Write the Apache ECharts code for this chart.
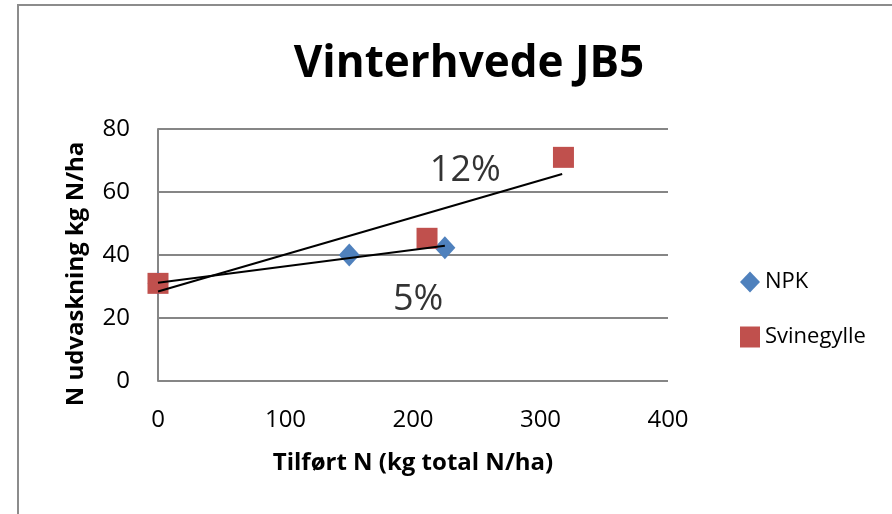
<!DOCTYPE html>
<html>
<head>
<meta charset="utf-8">
<script src="https://cdn.jsdelivr.net/npm/echarts@6/dist/echarts.min.js"></script>
<style>
  html, body { margin: 0; padding: 0; background: #fff; }
  #chart { width: 892px; height: 514px; }
</style>
</head>
<body>
<div id="chart"></div>
<script>
// data
var npkX = [0, 150, 225];
var npkY = [31, 40, 42.3];
var svinX = [0, 211, 318];
var svinY = [31, 45.3, 71];
// trend lines (end points)
var npkTrendX = [0, 225];
var npkTrendY = [31.2, 42.9];
var svinTrendX = [0, 317];
var svinTrendY = [28.4, 65.7];
// slope labels
var slopeLabels = ['12%', '5%'];
var slopeLabelX = [241, 204];
var slopeLabelY = [66.8, 25.7];

function pairs(x, y) {
  var res = [];
  for (var i = 0; i < x.length; i++) {
    res.push([x[i], y[i]]);
  }
  return res;
}

var font = 'Open Sans, Noto Sans, sans-serif';
var chart = echarts.init(document.getElementById('chart'));

var labelData = [];
for (var i = 0; i < slopeLabels.length; i++) {
  labelData.push({ value: [slopeLabelX[i], slopeLabelY[i]], name: slopeLabels[i] });
}

var option = {
  backgroundColor: '#fff',
  animation: false,
  title: {
    text: 'Vinterhvede JB5',
    left: 464,
    top: 37,
    textAlign: 'center',
    textStyle: { fontFamily: font, fontWeight: 'bold', fontSize: 44, color: '#000' }
  },
  graphic: [{
    type: 'rect',
    shape: { x: 18, y: 5, width: 900, height: 520 },
    style: { fill: 'none', stroke: '#8c8c8c', lineWidth: 2 },
    silent: true
  }],
  legend: {
    data: [
      { name: 'NPK', icon: 'diamond' },
      { name: 'Svinegylle', icon: 'rect' }
    ],
    orient: 'vertical',
    left: 735,
    top: 266,
    itemWidth: 20,
    itemHeight: 21,
    itemGap: 33,
    itemStyle: { opacity: 1 },
    textStyle: { fontFamily: font, fontSize: 22, color: '#000' }
  },
  grid: { left: 158, right: 224, top: 129, bottom: 133 },
  xAxis: {
    type: 'value',
    min: 0, max: 400, interval: 100,
    name: 'Tilført N (kg total N/ha)',
    nameLocation: 'middle',
    nameGap: 70,
    nameTextStyle: { fontFamily: font, fontWeight: 'bold', fontSize: 24, color: '#000' },
    axisLine: { show: false },
    axisTick: { show: false },
    splitLine: { show: false },
    axisLabel: { fontFamily: font, fontSize: 24, color: '#000', margin: 27 }
  },
  yAxis: {
    type: 'value',
    min: 0, max: 80, interval: 20,
    name: 'N udvaskning kg N/ha',
    nameLocation: 'middle',
    nameGap: 70,
    nameTextStyle: {
      fontFamily: font, fontWeight: 'bold', fontSize: 24, color: '#000',
      padding: [0, 38, 0, 0]
    },
    axisLine: { show: true, lineStyle: { color: '#868686', width: 2 } },
    axisTick: { show: false },
    splitLine: { lineStyle: { color: '#868686', width: 2 } },
    axisLabel: { fontFamily: font, fontSize: 24, color: '#000', margin: 28 }
  },
  series: [
    {
      name: 'NPK trend',
      type: 'line',
      data: pairs(npkTrendX, npkTrendY),
      symbol: 'none',
      lineStyle: { color: '#000', width: 2 },
      z: 3
    },
    {
      name: 'Svinegylle trend',
      type: 'line',
      data: pairs(svinTrendX, svinTrendY),
      symbol: 'none',
      lineStyle: { color: '#000', width: 2 },
      z: 3
    },
    {
      name: 'NPK',
      type: 'scatter',
      symbol: 'diamond',
      symbolSize: [21, 23],
      itemStyle: { color: '#4F81BD', opacity: 1 },
      data: pairs(npkX, npkY),
      z: 2
    },
    {
      name: 'Svinegylle',
      type: 'scatter',
      symbol: 'rect',
      symbolSize: 21,
      itemStyle: { color: '#C0504D', opacity: 1 },
      data: pairs(svinX, svinY),
      z: 2
    },
    {
      name: 'labels',
      type: 'scatter',
      symbolSize: 0,
      data: labelData,
      label: {
        show: true,
        position: 'inside',
        formatter: '{b}',
        fontFamily: font,
        fontSize: 36,
        color: '#000'
      },
      z: 4
    }
  ]
};

chart.setOption(option);
</script>
</body>
</html>
